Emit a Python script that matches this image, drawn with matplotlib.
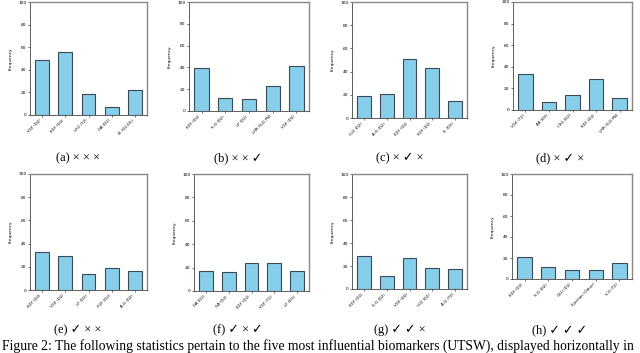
import matplotlib.pyplot as plt

# values, one list per panel
labels_a = ['VGF (D2)', 'KDF (D2)', 'LFO (T2)', 'DA (D2)', 'IE (D2,D5)']
freq_a = [49, 56, 19, 7, 22]
labels_b = ['KDF (D2)', 'S-G (D2)', 'LF (D2)', 'LHR (S-D PN)', 'VGF (D2)']
freq_b = [39, 12, 11, 23, 41]
labels_c = ['H-D (D2)', 'A-G (D2)', 'KDF (D2)', 'SGF (D2)', 'IL (D3)']
freq_c = [19, 21, 51, 43, 15]
labels_d = ['VGF (T2)', 'AB (D3)', 'CXG (D2)', 'KDF (D2)', 'LHR (S-D PN)']
freq_d = [33, 7, 14, 29, 11]
labels_e = ['KDF (D2)', 'VGF (D2)', 'LF (D2)', 'FGF (D2)', 'A-G (D2)']
freq_e = [33, 29, 14, 19, 16]
labels_f = ['DA (D2)', 'GA (D2)', 'KDF (D2)', 'VGF (T2)', 'LF (D3)']
freq_f = [17, 16, 24, 24, 17]
labels_g = ['KDF (D2)', 'S-G (D2)', 'VGF (D2)', 'H-D (D2)', 'A-G (T2)']
freq_g = [29, 11, 27, 18, 17]
labels_h = ['KDF (D2)', 'S-G (D2)', 'GLU (D2)', 'Ejection (Other)', 'V-G (T2)']
freq_h = [21, 11, 9, 9, 15]

captions = ['(a) \u00d7 \u00d7 \u00d7', '(b) \u00d7 \u00d7 \u2713', '(c) \u00d7 \u2713 \u00d7',
            '(d) \u00d7 \u2713 \u00d7', '(e) \u2713 \u00d7 \u00d7', '(f) \u2713 \u00d7 \u2713',
            '(g) \u2713 \u2713 \u00d7', '(h) \u2713 \u2713 \u2713']

panels = [(labels_a, freq_a), (labels_b, freq_b), (labels_c, freq_c), (labels_d, freq_d),
          (labels_e, freq_e), (labels_f, freq_f), (labels_g, freq_g), (labels_h, freq_h)]

# axes boxes in pixels: left, right, top, bottom
boxes = [(30, 147, 2, 115), (189, 309, 2, 111), (352, 467, 2, 118), (513, 632, 2, 110),
         (30, 147, 174, 290), (194, 309, 174, 291), (352, 467, 174, 289), (512, 632, 174, 279)]
cap_pos = [(78, 158), (238, 158), (400, 158), (560, 158),
           (78, 330), (238, 330), (400, 330), (560, 330)]

W, H = 640, 353
fig = plt.figure(figsize=(6.4, 3.53), dpi=100)
serif = ['Liberation Serif', 'DejaVu Sans']

for (labels, freq), (l, r, t, b), cap, (cx, cy) in zip(panels, boxes, captions, cap_pos):
    ax = fig.add_axes([l / W, 1 - b / H, (r - l) / W, (b - t) / H])
    ax.bar(range(len(freq)), freq, width=0.6, color='#87ceeb', edgecolor='#3a4a55', linewidth=0.8)
    ax.set_ylim(0, 100)
    ax.set_yticks([0, 20, 40, 60, 80, 100])
    ax.set_xticks(range(len(labels)))
    ax.set_xticklabels(labels, rotation=45, ha='right', fontsize=2.8)
    ax.tick_params(axis='y', labelsize=3.2, length=1.5, width=0.4, pad=1)
    ax.tick_params(axis='x', length=1.5, width=0.4, pad=1)
    ax.set_ylabel('Frequency', fontsize=3.2, labelpad=4)
    for s in ['left', 'bottom']:
        ax.spines[s].set_linewidth(0.6)
        ax.spines[s].set_color('#444444')
    for s in ['top', 'right']:
        ax.spines[s].set_linewidth(1.0)
        ax.spines[s].set_color('#888888')
    fig.text(cx / W, 1 - cy / H, cap, ha='center', va='center', fontsize=9, family=serif)

fig.text(2 / W, 1 - 346 / H,
         'Figure 2: The following statistics pertain to the five most influential biomarkers (UTSW), displayed horizontally in',
         ha='left', va='center', fontsize=9.8, family=serif)

fig.savefig('out.png', dpi=100)
